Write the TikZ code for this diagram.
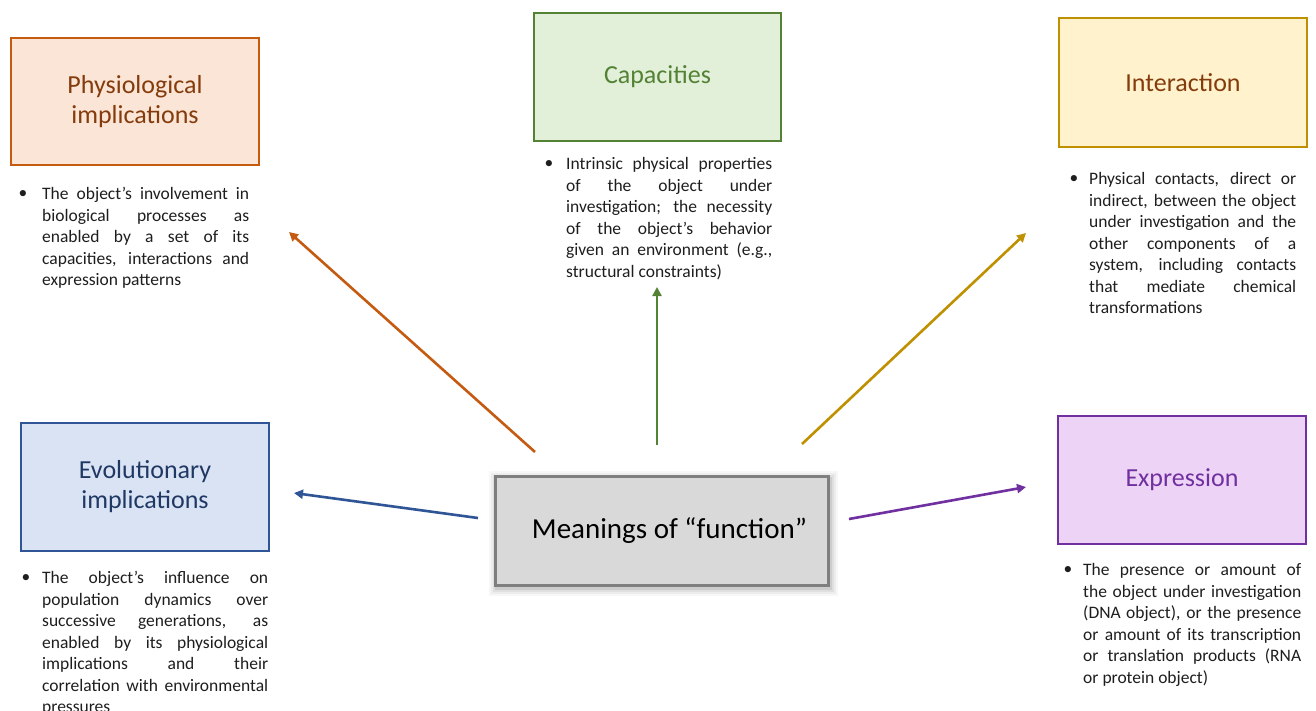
\documentclass[tikz,border=0pt]{standalone}
\usepackage{fontspec}
\setmainfont{Carlito}
\usetikzlibrary{arrows.meta}
\definecolor{orB}{HTML}{C55A11}\definecolor{orF}{HTML}{FBE5D6}\definecolor{orT}{HTML}{843C0C}
\definecolor{grB}{HTML}{548235}\definecolor{grF}{HTML}{E2F0D9}\definecolor{grT}{HTML}{548235}
\definecolor{goB}{HTML}{BF9000}\definecolor{goF}{HTML}{FFF2CC}\definecolor{goT}{HTML}{843C0C}
\definecolor{blB}{HTML}{2F5597}\definecolor{blF}{HTML}{DAE3F3}\definecolor{blT}{HTML}{203864}
\definecolor{puB}{HTML}{7030A0}\definecolor{puF}{HTML}{EDD3F5}\definecolor{puT}{HTML}{7030A0}
\definecolor{ceB}{HTML}{7F7F7F}\definecolor{ceF}{HTML}{D9D9D9}
\definecolor{bodyT}{HTML}{1E1E1E}
\tolerance=10000
\hyphenpenalty=10000
\tikzset{
  catbox/.style={draw, line width=1.3pt, minimum width=248pt, minimum height=128pt, align=center,
    font=\fontsize{26}{30}\selectfont, inner sep=0pt},
  bodytext/.style={anchor=north west, inner sep=0pt, text=bodyT,
    font=\fontsize{17.5}{21.5}\selectfont, align=justify},
  bulletmark/.style={inner sep=0pt, text=bodyT, font=\fontsize{17.5}{21.5}\selectfont},
  conn/.style={line width=2.6pt, -{Triangle[length=9pt,width=9pt]}},
}
\begin{document}
\begin{tikzpicture}[x=1pt,y=-1pt]
\useasboundingbox (0,0) rectangle (1316,710);
\fill[white] (0,0) rectangle (1316,710);

% category boxes
\node[catbox, draw=orB, fill=orF, text=orT, minimum width=248pt, minimum height=127pt] (phys) at (135,101.5) {Physiological\\implications};
\node[catbox, draw=grB, fill=grF, text=grT, minimum width=247pt] (capa) at (657.5,77) {Capacities};
\node[catbox, draw=goB, fill=goF, text=goT, minimum height=129pt] (inter) at (1183,82.5) {Interaction};
\node[catbox, draw=blB, fill=blF, text=blT] (evol) at (145,487) {Evolutionary\\implications};
\node[catbox, draw=puB, fill=puF, text=puT] (expr) at (1182,480) {Expression};

% center box with soft shadow
\foreach \s/\o in {8/0.03,6/0.04,4/0.06,2/0.08}{
  \fill[black, opacity=\o] (495-\s+2,476-\s+3) rectangle (828+\s+2,585+\s+3);
}
\node[draw=ceB, fill=ceF, line width=3pt, minimum width=333pt, minimum height=109pt, inner sep=0pt,
  font=\fontsize{29}{32}\selectfont, text=black] (center) at (661.5,530.5) {\hspace*{16pt}Meanings of “function”};

% bullet texts
\node[bulletmark] (b1) at (23,194) {•};
\node[bodytext, text width=207pt] (t1) at (42,184.5) {\strut The object’s involvement in\linebreak biological processes as\linebreak enabled by a set of its\linebreak capacities, interactions and\linebreak expression patterns};

\node[bulletmark] (b2) at (549,164) {•};
\node[bodytext, text width=206pt] (t2) at (566,154.5) {\strut Intrinsic physical properties\linebreak of the object under\linebreak investigation; the necessity\linebreak of the object’s behavior\linebreak given an environment (e.g.,\linebreak structural constraints)};

\node[bulletmark] (b3) at (1074,179) {•};
\node[bodytext, text width=207pt] (t3) at (1089,169.5) {\strut Physical contacts, direct or\linebreak indirect, between the object\linebreak under investigation and the\linebreak other components of a\linebreak system, including contacts\linebreak that mediate chemical\linebreak transformations};

\node[bulletmark] (b4) at (26,578) {•};
\node[bodytext, text width=226pt] (t4) at (42,568.5) {\strut The object’s influence on\linebreak population dynamics over\linebreak successive generations, as\linebreak enabled by its physiological\linebreak implications and their\linebreak correlation with environmental\linebreak pressures};

\node[bulletmark] (b5) at (1068,570) {•};
\node[bodytext, text width=218pt] (t5) at (1083,560.5) {\strut The presence or amount of\linebreak the object under investigation\linebreak (DNA object), or the presence\linebreak or amount of its transcription\linebreak or translation products (RNA\linebreak or protein object)};

% connectors
\coordinate (s1) at (535,452); \coordinate (e1) at (289,232);
\coordinate (s2) at (657,445); \coordinate (e2) at (657,287);
\coordinate (s3) at (802,444); \coordinate (e3) at (1026,233);
\coordinate (s4) at (478,518); \coordinate (e4) at (294,493);
\coordinate (s5) at (849,519); \coordinate (e5) at (1026,487);
\draw[conn, orB] (s1) -- (e1);
\draw[conn, grB] (s2) -- (e2);
\draw[conn, goB] (s3) -- (e3);
\draw[conn, blB] (s4) -- (e4);
\draw[conn, puB] (s5) -- (e5);
\end{tikzpicture}
\end{document}
